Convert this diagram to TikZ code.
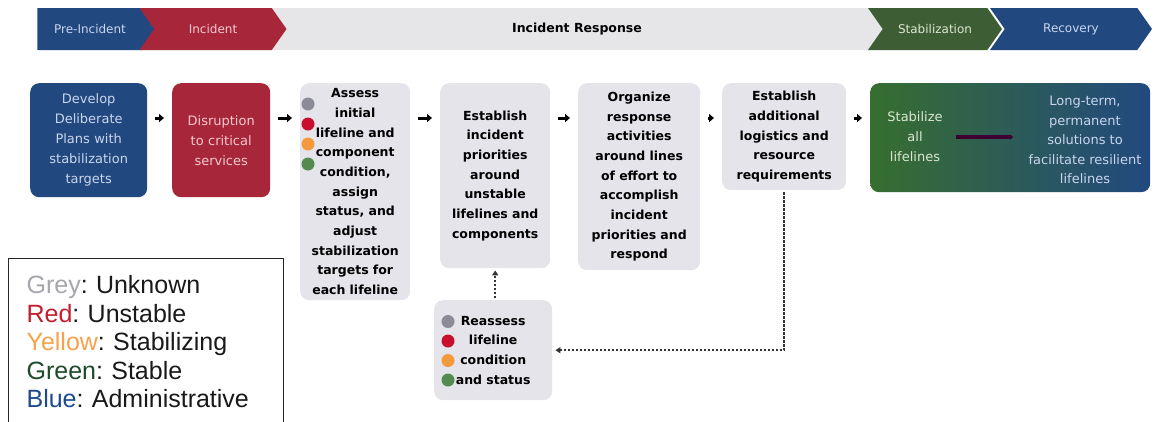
\documentclass[tikz,border=0pt]{standalone}
\usepackage{fontspec}
\setmainfont{DejaVu Sans}
\newfontfamily\legendfont{Liberation Sans}
\usetikzlibrary{shapes.symbols,arrows.meta,positioning}
\definecolor{admblue}{HTML}{22497F}
\definecolor{incred}{HTML}{A8263A}
\definecolor{stabgreen}{HTML}{3D5E34}
\definecolor{bandgrey}{HTML}{E6E6E9}
\definecolor{cardgrey}{HTML}{E4E4EA}
\definecolor{paleblue}{HTML}{C9D5EE}
\definecolor{palered}{HTML}{F2C9CE}
\definecolor{palegreen}{HTML}{DCE6D4}
\definecolor{lampgrey}{HTML}{8C8C98}
\definecolor{lampred}{HTML}{C8102E}
\definecolor{lamporange}{HTML}{F59A3C}
\definecolor{lampgreen}{HTML}{528A50}
\definecolor{keygrey}{HTML}{A6A6AE}
\definecolor{keyred}{HTML}{C41E2E}
\definecolor{keyyellow}{HTML}{F7A24A}
\definecolor{keygreen}{HTML}{1E4A2C}
\definecolor{keyblue}{HTML}{1D4A8C}

\begin{document}
\begin{tikzpicture}[x=1pt,y=-1pt,
  phase/.style={signal, signal pointer angle=110, minimum height=42pt, inner sep=0pt,
    font=\fontsize{12}{14}\selectfont},
  card/.style={rounded corners=9pt, anchor=north west, align=center, inner sep=0pt,
    font=\fontsize{13}{20}\selectfont},
  greycard/.style={card, fill=cardgrey, font=\fontsize{12.5}{19.7}\selectfont\bfseries},
  lamp/.style={circle, minimum size=13pt, inner sep=0pt},
  flowarrow/.style={line width=3pt, shorten <=8pt, shorten >=8pt,
    -{Triangle[length=5pt,width=8pt]}},
  loopback/.style={line width=1.5pt, dash pattern=on 2.5pt off 1.5pt, draw=black!80,
    -{Triangle[length=5pt,width=6pt]}}]

\useasboundingbox (0,0) rectangle (1156,421);

\node[fill=bandgrey, minimum width=615pt, minimum height=42pt, inner sep=0pt,
  font=\fontsize{12.5}{14}\selectfont\bfseries] (resp) at (577,29) {Incident Response};
\node[phase, signal to=east, fill=admblue, text=paleblue, minimum width=120pt] (pre) at (90,29) {Pre-Incident};
\node[phase, signal from=west, signal to=east, fill=incred, text=palered, minimum width=147pt] (inc) at (213,29) {Incident};
\node[phase, signal from=west, signal to=east, fill=stabgreen, text=palegreen, minimum width=134pt] (stab) at (935,29) {Stabilization};
\node[phase, signal from=west, signal to=east, fill=admblue, text=paleblue, minimum width=162pt] (rec) at (1071,29) {Recovery};

\node[card, fill=admblue, text=paleblue, minimum width=117pt, minimum height=114pt, text width=117pt] (dev) at (30,83)
  {Develop\\Deliberate\\Plans with\\stabilization\\targets};
\node[card, fill=incred, text=palered, minimum width=98pt, minimum height=114pt, text width=98pt] (dis) at (172,83)
  {Disruption\\to critical\\services};
\node[greycard, minimum width=110pt, minimum height=217pt, text width=110pt] (assess) at (300,83)
  {Assess\\initial\\lifeline and\\component\\condition,\\assign\\status, and\\adjust\\stabilization\\targets for\\each lifeline};
\node[greycard, minimum width=110pt, minimum height=185pt, text width=110pt] (estinc) at (440,83)
  {Establish\\incident\\priorities\\around\\unstable\\lifelines and\\components};
\node[greycard, minimum width=122pt, minimum height=187pt, text width=122pt] (org) at (578,83)
  {Organize\\response\\activities\\around lines\\of effort to\\accomplish\\incident\\priorities and\\respond};
\node[greycard, minimum width=124pt, minimum height=107pt, text width=124pt] (estlog) at (722,83)
  {Establish\\additional\\logistics and\\resource\\requirements};
\node[card, left color=stabgreen!90!green, right color=admblue, minimum width=280pt, minimum height=109pt] (stabrec) at (870,83) {};
\node[align=center, text=palegreen, font=\fontsize{13}{20}\selectfont] (stabtext) at (915,137) {Stabilize\\all\\lifelines};
\node[align=center, text=paleblue, font=\fontsize{13}{19.5}\selectfont] (longterm) at (1085,140)
  {Long-term,\\permanent\\solutions to\\facilitate resilient\\lifelines};
\node[greycard, minimum width=118pt, minimum height=100pt, text width=118pt] (reassess) at (434,300)
  {Reassess\\lifeline\\condition\\and status};

\foreach \c [count=\i] in {lampgrey,lampred,lamporange,lampgreen}
  \node[lamp, fill=\c] (alamp\i) at (308,84+20*\i) {};
\foreach \c [count=\i] in {lampgrey,lampred,lamporange,lampgreen}
  \node[lamp, fill=\c] (rlamp\i) at (448,302+19.5*\i) {};

\draw[flowarrow] ([yshift=-35pt]dev.north east) -- ([yshift=-35pt]dis.north west);
\draw[flowarrow] ([yshift=-35pt]dis.north east) -- ([yshift=-35pt]assess.north west);
\draw[flowarrow] ([yshift=-35pt]assess.north east) -- ([yshift=-35pt]estinc.north west);
\draw[flowarrow] ([yshift=-35pt]estinc.north east) -- ([yshift=-35pt]org.north west);
\draw[flowarrow] ([yshift=-35pt]org.north east) -- ([yshift=-35pt]estlog.north west);
\draw[flowarrow] ([yshift=-35pt]estlog.north east) -- ([yshift=-35pt]stabrec.north west);
\draw[line width=3.5pt, draw=black!70!red!80!blue, shorten <=10pt, shorten >=12pt, -{Triangle[length=3pt,width=5pt]}]
  (stabtext.east) -- (longterm.west |- stabtext.east);

\draw[loopback, shorten <=2pt, shorten >=3pt] (estlog.south) |- (reassess.east);
\draw[loopback, shorten <=2pt, shorten >=2pt] (estinc.south |- reassess.north) -- (estinc.south);

\node[draw=black!85, line width=1.2pt, anchor=north west, minimum width=275pt, text width=239pt,
  inner xsep=18pt, inner ysep=17pt, align=left, text=black!90,
  font=\legendfont\fontsize{25}{28.5}\selectfont\frenchspacing] (legend) at (8,258)
  {\textcolor{keygrey}{Grey}: Unknown\\
   \textcolor{keyred}{Red}: Unstable\\
   \textcolor{keyyellow}{Yellow}: Stabilizing\\
   \textcolor{keygreen}{Green}: Stable\\
   \textcolor{keyblue}{Blue}: Administrative};
\end{tikzpicture}
\end{document}
